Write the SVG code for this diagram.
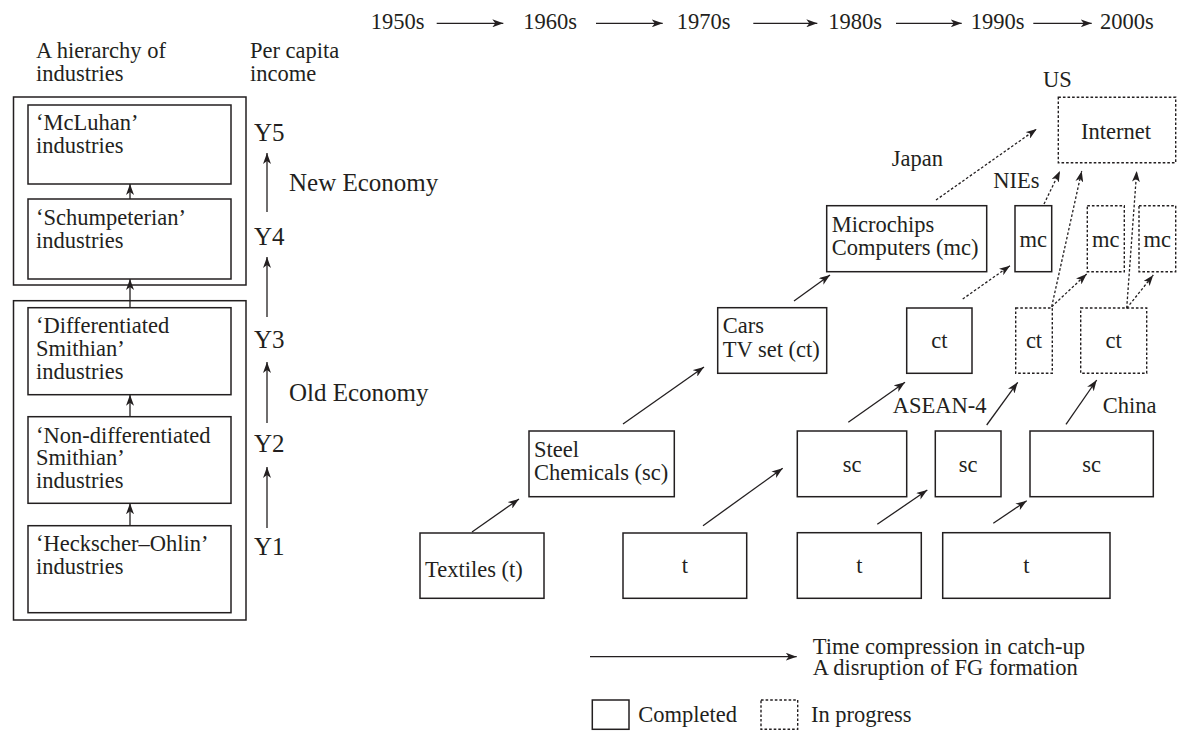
<svg xmlns="http://www.w3.org/2000/svg" width="1187" height="732" viewBox="0 0 1187 732">
  <style>
    text { font-family: "Liberation Serif", "Times New Roman", serif; font-size: 22.5px; fill: #231f20; }
    .big { font-size: 25px; }
    .mid { text-anchor: middle; }
    .box { fill: #fff; stroke: #231f20; stroke-width: 1.5; }
    .dot { fill: #fff; stroke: #231f20; stroke-width: 1.4; stroke-dasharray: 2.6 2; }
    .arr { fill: none; stroke: #231f20; stroke-width: 1.3; marker-end: url(#head); }
    .darr { fill: none; stroke: #231f20; stroke-width: 1.3; stroke-dasharray: 2.6 2; marker-end: url(#head); }
  </style>
  <defs>
    <marker id="head" markerUnits="userSpaceOnUse" markerWidth="12" markerHeight="8" refX="11" refY="4" orient="auto">
      <path d="M0,0 L11,4 L0,8 L3,4 z" fill="#231f20"/>
    </marker>
  </defs>
  <rect width="1187" height="732" fill="#fff"/>

  <!-- decade timeline -->
  <g id="timeline">
    <text x="370.7" y="29.3">1950s</text>
    <text x="523.3" y="29.3">1960s</text>
    <text x="676.7" y="29.3">1970s</text>
    <text x="828.3" y="29.3">1980s</text>
    <text x="970.7" y="29.3">1990s</text>
    <text x="1100" y="29.3">2000s</text>
  </g>

  <!-- column headings -->
  <g id="headings">
    <text x="36" y="58.3">A hierarchy of</text>
    <text x="36" y="80.7">industries</text>
    <text x="250" y="58.3">Per capita</text>
    <text x="250" y="80.7">income</text>
  </g>

  <!-- hierarchy of industries -->
  <g id="new-economy-frame"><rect class="box" x="13.5" y="97" width="232.5" height="188" fill="none"/></g>
  <g id="old-economy-frame"><rect class="box" x="13.5" y="300.7" width="232.5" height="319.3" fill="none"/></g>
  <g id="mcluhan">
    <rect class="box" x="28" y="105" width="203" height="79"/>
    <text x="36" y="130">‘McLuhan’</text>
    <text x="36" y="153">industries</text>
  </g>
  <g id="schumpeterian">
    <rect class="box" x="28" y="199" width="203" height="80"/>
    <text x="36" y="225">‘Schumpeterian’</text>
    <text x="36" y="247.5">industries</text>
  </g>
  <g id="differentiated">
    <rect class="box" x="28" y="307.7" width="203" height="87"/>
    <text x="36" y="333.3">‘Differentiated</text>
    <text x="36" y="356.3">Smithian’</text>
    <text x="36" y="379.3">industries</text>
  </g>
  <g id="non-differentiated">
    <rect class="box" x="28" y="416.7" width="203" height="86.6"/>
    <text x="36" y="442.7">‘Non-differentiated</text>
    <text x="36" y="465.4">Smithian’</text>
    <text x="36" y="488">industries</text>
  </g>
  <g id="heckscher-ohlin">
    <rect class="box" x="28" y="525.7" width="203" height="87"/>
    <text x="36" y="551">‘Heckscher–Ohlin’</text>
    <text x="36" y="573.5">industries</text>
  </g>

  <!-- per capita income levels -->
  <g id="income-levels">
    <text class="big" x="254" y="141">Y5</text>
    <text class="big" x="254" y="245">Y4</text>
    <text class="big" x="254" y="348">Y3</text>
    <text class="big" x="254" y="452">Y2</text>
    <text class="big" x="254" y="555">Y1</text>
    <text class="big" x="289" y="191">New Economy</text>
    <text class="big" x="289" y="400.7">Old Economy</text>
  </g>

  <!-- flying geese: Japan -->
  <g id="japan-textiles">
    <rect class="box" x="420" y="533" width="124" height="65.3"/>
    <text x="425" y="576.7">Textiles (t)</text>
  </g>
  <g id="japan-steel">
    <rect class="box" x="529" y="431" width="145.3" height="65.7"/>
    <text x="534" y="456.7">Steel</text>
    <text x="534" y="480">Chemicals (sc)</text>
  </g>
  <g id="japan-cars">
    <rect class="box" x="717.7" y="307.7" width="109" height="65.6"/>
    <text x="722.7" y="333">Cars</text>
    <text x="722.7" y="356.7">TV set (ct)</text>
  </g>
  <g id="japan-microchips">
    <rect class="box" x="826.7" y="205.7" width="160" height="66"/>
    <text x="831.7" y="231.7">Microchips</text>
    <text x="831.7" y="255">Computers (mc)</text>
  </g>
  <g id="us-internet">
    <rect class="dot" x="1058.3" y="97.3" width="117.4" height="65.4"/>
    <text class="mid" x="1116" y="139">Internet</text>
  </g>

  <!-- NIEs -->
  <g id="nies-t">
    <rect class="box" x="623" y="533" width="123.7" height="65.3"/>
    <text class="mid" x="685" y="573">t</text>
  </g>
  <g id="nies-sc">
    <rect class="box" x="797.3" y="431" width="109.4" height="65.7"/>
    <text class="mid" x="852" y="471.7">sc</text>
  </g>
  <g id="nies-ct">
    <rect class="box" x="906.7" y="308" width="65.3" height="65.3"/>
    <text class="mid" x="939.3" y="348.3">ct</text>
  </g>
  <g id="nies-mc">
    <rect class="box" x="1015" y="205.7" width="36.7" height="66"/>
    <text class="mid" x="1033.3" y="246.7">mc</text>
  </g>

  <!-- ASEAN-4 -->
  <g id="asean-t">
    <rect class="box" x="797.3" y="532.7" width="124" height="65.6"/>
    <text class="mid" x="859.3" y="573">t</text>
  </g>
  <g id="asean-sc">
    <rect class="box" x="935.3" y="431" width="65.7" height="65.7"/>
    <text class="mid" x="968.2" y="471.7">sc</text>
  </g>
  <g id="asean-ct">
    <rect class="dot" x="1015.7" y="308" width="36.6" height="65.3"/>
    <text class="mid" x="1034" y="348.3">ct</text>
  </g>
  <g id="asean-mc">
    <rect class="dot" x="1087.3" y="205.7" width="37" height="66"/>
    <text class="mid" x="1105.8" y="246.7">mc</text>
  </g>

  <!-- China -->
  <g id="china-t">
    <rect class="box" x="942.7" y="532.7" width="167.3" height="65.6"/>
    <text class="mid" x="1026.3" y="573">t</text>
  </g>
  <g id="china-sc">
    <rect class="box" x="1030" y="431" width="123.3" height="65.7"/>
    <text class="mid" x="1091.7" y="471.7">sc</text>
  </g>
  <g id="china-ct">
    <rect class="dot" x="1080.7" y="308" width="66" height="65.3"/>
    <text class="mid" x="1113.7" y="348.3">ct</text>
  </g>
  <g id="china-mc">
    <rect class="dot" x="1139" y="205.7" width="36.7" height="66"/>
    <text class="mid" x="1157.3" y="246.7">mc</text>
  </g>

  <!-- economy labels -->
  <g id="economy-labels">
    <text x="1043" y="86.7">US</text>
    <text x="891.7" y="166">Japan</text>
    <text x="993.3" y="188.3">NIEs</text>
    <text x="892.7" y="413.3">ASEAN-4</text>
    <text x="1102.7" y="413.3">China</text>
  </g>

  <!-- connectors -->
  <g id="connectors">
    <!-- timeline -->
    <path class="arr" d="M436.7,23.3 H503.3"/>
    <path class="arr" d="M596,23.3 H662.7"/>
    <path class="arr" d="M753.3,23.3 H817.3"/>
    <path class="arr" d="M896,23.3 H961.7"/>
    <path class="arr" d="M1033.3,23.3 H1091.7"/>
    <!-- hierarchy -->
    <path class="arr" d="M130,199 V184"/>
    <path class="arr" d="M130,307.7 V279"/>
    <path class="arr" d="M130,416.7 V394.7"/>
    <path class="arr" d="M130,525.7 V503.3"/>
    <!-- income -->
    <path class="arr" d="M267,212 V153"/>
    <path class="arr" d="M267,317 V257"/>
    <path class="arr" d="M267,423 V362"/>
    <path class="arr" d="M267,528 V467"/>
    <!-- completed stages -->
    <path class="arr" d="M472,532 L519,499"/>
    <path class="arr" d="M623,424 L704,367"/>
    <path class="arr" d="M794,301 L830,275"/>
    <path class="arr" d="M703,525.7 L782.7,468.3"/>
    <path class="arr" d="M848.3,422.3 L905,382.3"/>
    <path class="arr" d="M877.3,524.3 L927.3,490"/>
    <path class="arr" d="M986.7,425 L1017.7,382.3"/>
    <path class="arr" d="M993.3,523.3 L1026.7,500.7"/>
    <path class="arr" d="M1066,424.3 L1096.7,380"/>
    <!-- stages in progress -->
    <path class="darr" d="M936,200 L1036.7,129"/>
    <path class="darr" d="M1044,204 L1060,171"/>
    <path class="darr" d="M962.7,299 L1010,265.7"/>
    <path class="darr" d="M1051.7,306.7 L1081.7,171"/>
    <path class="darr" d="M1051.7,306.7 L1086.7,274"/>
    <path class="darr" d="M1126.7,308.3 L1136.7,171"/>
    <path class="darr" d="M1126.7,308.3 L1153.3,275"/>
  </g>

  <!-- legend -->
  <g id="legend">
    <path class="arr" d="M590,656.7 H796.7"/>
    <text x="812.7" y="653.5">Time compression in catch-up</text>
    <text x="812.7" y="675">A disruption of FG formation</text>
    <rect class="box" x="592.3" y="700" width="36.7" height="29.3"/>
    <text x="638.3" y="722.3">Completed</text>
    <rect class="dot" x="761" y="700" width="36.7" height="29.3"/>
    <text x="811" y="722.3">In progress</text>
  </g>
</svg>
